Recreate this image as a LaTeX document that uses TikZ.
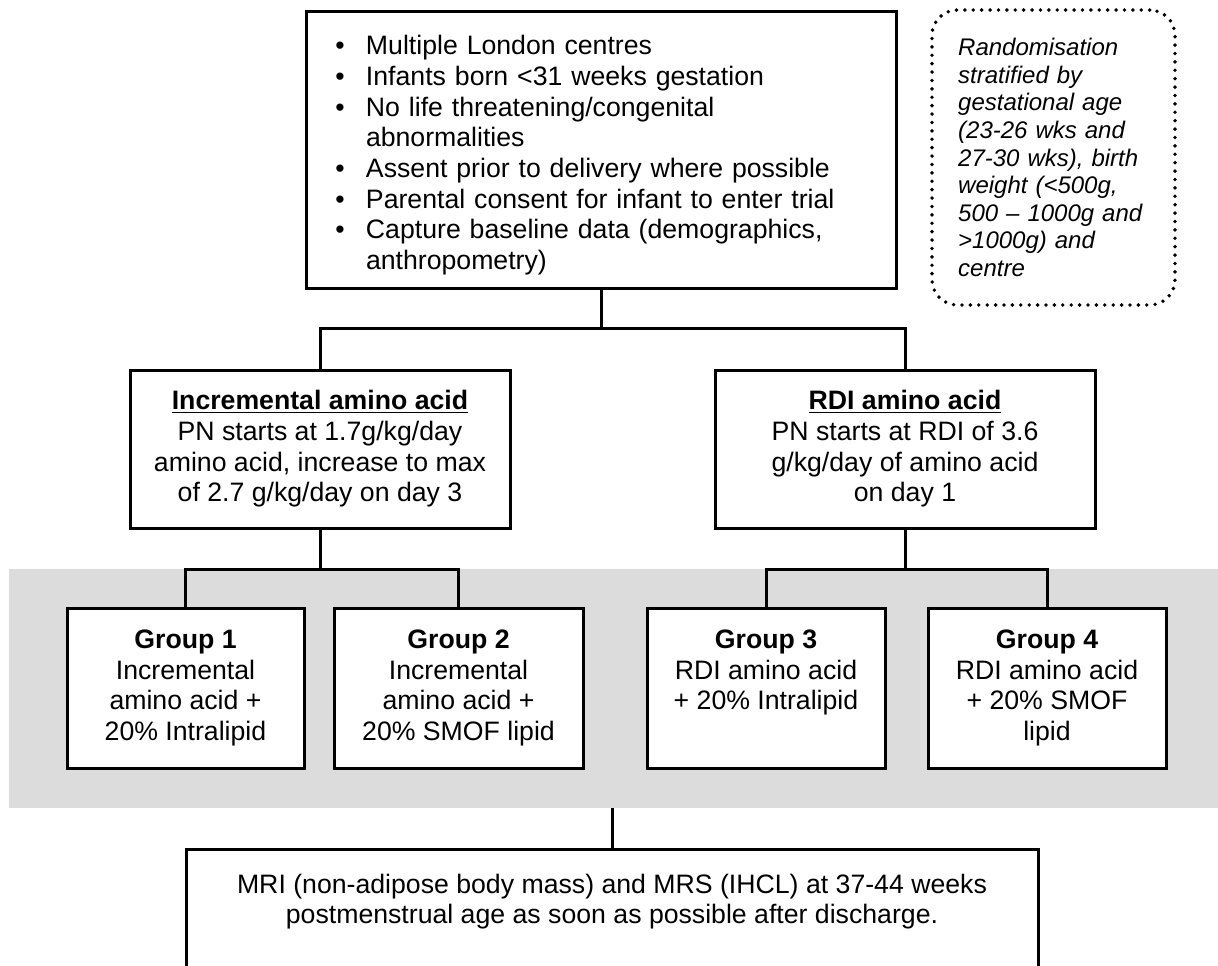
\documentclass[tikz,border=0pt]{standalone}
\usepackage{fontspec}
\setmainfont{Liberation Sans}

\definecolor{bandgray}{RGB}{220,220,220}
\newcommand{\bitem}[1]{\par\hangindent=45pt\hangafter=1\noindent\makebox[45pt][l]{\hspace{22pt}\textbullet}#1}

\begin{document}
\begin{tikzpicture}[x=.75pt,y=-.75pt,
  box/.style={draw,line width=2.25pt,fill=white,align=center,inner sep=0pt,
    font=\fontsize{20}{23}\selectfont},
  link/.style={line width=2.25pt},
  note/.style={draw,line width=2.9pt,dash pattern=on 0pt off 6.3pt,line cap=round,
    rounded corners=19pt,align=left,text width=143pt,inner sep=0pt,
    font=\fontsize{18}{20.7}\selectfont\itshape}]

\clip (0,0) rectangle (1218,965);

% grey band behind the four groups
\fill[bandgray] (9,569) rectangle (1230,808);

\node[box,align=left,text width=442.5pt,minimum height=207.75pt] (crit) at (601,149.5) {%
\bitem{Multiple London centres}
\bitem{Infants born <31 weeks gestation}
\bitem{No life threatening/congenital\newline abnormalities}
\bitem{Assent prior to delivery where possible}
\bitem{Parental consent for infant to enter trial}
\bitem{Capture baseline data (demographics,\newline anthropometry)}\par};

\node[note,minimum width=182.25pt,minimum height=221.25pt] (strat) at (1053.5,157.5)
  {Randomisation\\stratified by\\gestational age\\(23-26 wks and\\27-30 wks), birth\\weight (<500g,\\500 – 1000g and\\>1000g) and\\centre};

\node[box,minimum width=285pt,minimum height=118.5pt] (inc) at (320,449)
  {\underline{\textbf{Incremental amino acid}}\\PN starts at 1.7g/kg/day\\amino acid, increase to max\\of 2.7 g/kg/day on day 3};
\node[box,minimum width=285pt,minimum height=118.5pt] (rdi) at (905,449)
  {\underline{\textbf{RDI amino acid}}\\PN starts at RDI of 3.6\\g/kg/day of amino acid\\on day 1};

\node[box,minimum width=177.75pt,minimum height=120pt] (g1) at (185.5,688)
  {\textbf{Group 1}\\Incremental\\amino acid +\\20\% Intralipid};
\node[box,minimum width=186.75pt,minimum height=120pt] (g2) at (458.5,688)
  {\textbf{Group 2}\\Incremental\\amino acid +\\20\% SMOF lipid};
\node[box,minimum width=178.5pt,minimum height=120pt] (g3) at (766,688)
  {\textbf{Group 3}\\RDI amino acid\\+ 20\% Intralipid\\\vphantom{Ip}};
\node[box,minimum width=178.5pt,minimum height=120pt] (g4) at (1047,688)
  {\textbf{Group 4}\\RDI amino acid\\+ 20\% SMOF\\lipid};

\node[box,minimum width=639pt,minimum height=112.5pt,anchor=north] (mri) at (612,848) {};
\node[align=center,font=\fontsize{20}{23}\selectfont] (mritext) at (612,901.5)
  {MRI (non-adipose body mass) and MRS (IHCL) at 37-44 weeks\\postmenstrual age as soon as possible after discharge.};

\coordinate (split) at (601,328);
\coordinate (splitinc) at (320,569);
\coordinate (splitrdi) at (905,569);
\coordinate (merge) at (612,808);

\draw[link] (crit.south) -- (split);
\draw[link] (inc.north) |- (split) -| (rdi.north);
\draw[link] (inc.south) -- (splitinc);
\draw[link] (g1.north) |- (splitinc) -| (g2.north);
\draw[link] (rdi.south) -- (splitrdi);
\draw[link] (g3.north) |- (splitrdi) -| (g4.north);
\draw[link] (merge) -- (mri.north);

\end{tikzpicture}
\end{document}
